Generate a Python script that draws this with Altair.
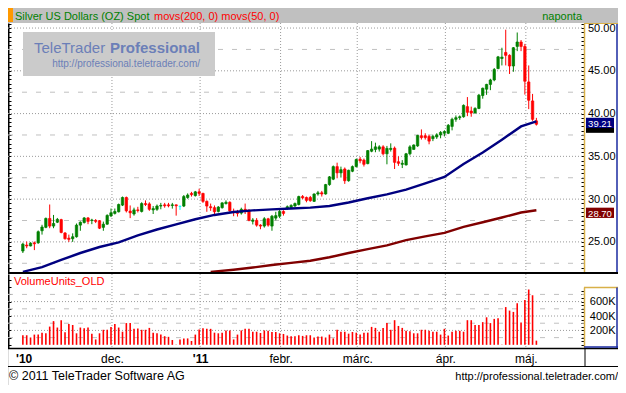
import altair as alt
import pandas as pd

# ---------------- data ----------------
OPEN = [23.93, 24.63, 24.52, 24.89, 24.89, 26.30, 26.70, 27.74, 26.85, 27.30,
        27.60, 26.04, 25.44, 25.37, 25.60, 26.96, 27.26, 27.80, 27.50, 27.50,
        27.48, 26.70, 27.07, 28.04, 28.33, 28.52, 29.30, 30.19, 28.60, 28.26,
        28.74, 28.56, 29.48, 29.44, 28.74, 28.81, 29.19, 29.33, 29.33, 29.26,
        29.33, 29.15, 29.19, 30.19, 30.67, 30.41, 30.85, 30.67, 29.74, 29.11,
        29.00, 28.56, 29.00, 29.48, 29.63, 28.56, 28.44, 28.37, 28.81, 28.70,
        27.41, 27.52, 26.96, 26.85, 27.70, 26.85, 27.78, 28.00, 28.56, 28.89,
        29.00, 29.19, 29.37, 30.30, 30.19, 30.19, 29.74, 30.60, 30.74, 30.60,
        31.70, 32.33, 33.80, 33.07, 33.52, 32.15, 33.26, 33.81, 34.67, 34.56,
        34.15, 35.60, 35.81, 35.85, 36.11, 35.30, 35.81, 35.96, 34.37, 34.07,
        34.00, 35.30, 35.81, 36.22, 37.41, 37.41, 37.33, 37.07, 37.26, 37.50,
        37.70, 37.70, 38.50, 39.33, 39.52, 39.63, 40.81, 40.30, 40.07, 40.60,
        42.11, 42.85, 43.41, 43.93, 45.26, 46.44, 47.15, 46.81, 45.56, 47.85,
        48.37, 47.85, 43.70, 41.48, 39.15]
HIGH = [24.90, 25.04, 24.96, 25.04, 26.33, 27.00, 27.85, 29.37, 28.15, 27.80,
        27.70, 26.15, 25.85, 26.00, 27.15, 27.40, 27.90, 27.90, 27.70, 27.67,
        27.55, 27.37, 28.22, 28.90, 28.90, 29.48, 30.30, 30.30, 29.26, 29.00,
        29.10, 29.63, 29.85, 29.63, 29.19, 29.37, 29.56, 29.56, 29.56, 29.56,
        29.37, 29.26, 30.48, 30.67, 30.85, 30.96, 31.22, 30.74, 29.85, 29.48,
        29.26, 29.19, 29.63, 29.85, 29.74, 28.89, 28.74, 29.00, 29.48, 28.81,
        27.78, 27.78, 27.07, 27.89, 27.81, 28.15, 28.52, 28.74, 28.70, 29.26,
        29.40, 29.60, 30.40, 30.48, 30.30, 30.37, 30.67, 30.96, 30.96, 31.78,
        32.70, 33.93, 34.26, 33.80, 33.70, 33.44, 33.93, 34.74, 34.93, 34.74,
        35.74, 36.78, 36.60, 36.30, 36.30, 36.22, 36.52, 36.15, 35.00, 34.56,
        35.40, 36.30, 36.40, 37.52, 38.15, 37.70, 37.52, 37.52, 37.70, 37.95,
        38.05, 38.78, 39.52, 39.78, 39.78, 41.07, 41.93, 40.81, 40.74, 42.30,
        43.04, 43.48, 44.07, 45.33, 46.74, 47.70, 49.81, 46.93, 47.78, 49.48,
        48.60, 48.15, 45.63, 42.30, 39.50]
LOW = [23.70, 24.26, 24.48, 24.04, 24.78, 25.85, 26.60, 26.60, 26.60, 27.20,
       26.00, 25.26, 25.00, 25.00, 25.50, 26.30, 27.15, 27.07, 27.07, 27.20,
       26.50, 26.30, 27.00, 27.90, 28.20, 28.44, 29.19, 28.44, 27.78, 28.07,
       28.44, 28.44, 29.19, 28.63, 28.26, 28.63, 28.81, 29.00, 29.04, 28.89,
       28.07, 28.74, 29.07, 30.04, 30.30, 30.30, 30.37, 29.56, 28.52, 28.63,
       28.15, 28.44, 28.89, 29.37, 28.52, 28.00, 27.96, 28.19, 28.26, 27.41,
       27.04, 26.78, 26.48, 26.67, 26.78, 26.30, 27.52, 27.78, 28.07, 28.74,
       28.90, 29.10, 29.26, 30.00, 29.63, 29.70, 29.67, 30.41, 30.30, 30.52,
       31.56, 32.22, 32.44, 32.52, 31.78, 32.04, 33.15, 33.70, 34.19, 33.81,
       34.07, 35.48, 35.48, 35.56, 35.11, 34.07, 35.56, 33.52, 33.89, 33.63,
       33.93, 35.11, 35.78, 36.11, 36.96, 36.96, 36.41, 36.78, 37.04, 37.11,
       37.33, 37.60, 38.04, 39.04, 39.26, 39.52, 39.70, 39.63, 40.00, 40.52,
       41.74, 42.19, 42.74, 43.78, 45.19, 45.63, 45.63, 44.63, 44.89, 47.30,
       47.30, 42.22, 40.52, 39.15, 38.60]
CLOSE = [24.74, 24.52, 24.85, 24.78, 26.19, 26.74, 27.74, 26.85, 27.15, 27.63,
         26.10, 25.37, 25.30, 25.60, 26.96, 27.30, 27.80, 27.40, 27.56, 27.40,
         26.60, 27.07, 28.10, 28.40, 28.56, 29.37, 30.19, 28.63, 28.40, 28.74,
         28.67, 29.48, 29.37, 28.81, 28.89, 29.19, 29.26, 29.22, 29.22, 29.33,
         29.22, 29.15, 30.30, 30.48, 30.52, 30.85, 30.67, 29.74, 29.19, 29.00,
         28.52, 29.07, 29.56, 29.63, 28.63, 28.44, 28.33, 28.81, 28.70, 27.52,
         27.56, 26.96, 26.85, 27.70, 26.96, 28.00, 28.07, 28.56, 28.33, 29.11,
         29.26, 29.48, 30.30, 30.15, 29.85, 29.81, 30.60, 30.74, 30.60, 31.70,
         32.60, 33.80, 33.07, 33.44, 32.15, 33.37, 33.80, 34.63, 34.48, 34.07,
         35.67, 35.85, 36.11, 36.11, 35.30, 35.93, 35.93, 34.30, 34.19, 34.19,
         35.30, 36.11, 36.33, 37.44, 37.19, 37.19, 36.78, 37.33, 37.52, 37.80,
         37.90, 38.63, 39.33, 39.52, 39.63, 40.96, 40.15, 40.07, 40.60, 42.15,
         42.96, 43.41, 43.93, 45.15, 46.63, 46.60, 46.81, 45.56, 47.70, 48.37,
         47.85, 43.78, 41.56, 39.33, 38.75]
VOLUME_K = [133, 133, 102, 142, 142, 169, 160, 253, 329, 240,
            342, 173, 289, 275, 160, 240, 231, 240, 155, 75,
            160, 209, 209, 249, 289, 240, 182, 302, 302, 222,
            226, 209, 209, 235, 169, 160, 142, 120, 111, 67,
            5, 75, 89, 89, 53, 142, 213, 231, 222, 222,
            169, 160, 169, 200, 200, 75, 142, 200, 222, 222,
            182, 182, 164, 200, 195, 178, 178, 160, 151, 129,
            120, 120, 133, 124, 133, 133,
            102, 115, 115, 102, 142, 89, 209, 182, 182, 155,
            178, 169, 142, 169, 169, 249, 235, 182, 235, 302,
            209, 342, 262, 235, 195, 187, 160, 160, 209, 209,
            195, 182, 182, 142, 222, 129, 182, 195, 195, 182,
            342, 342, 275, 275, 315, 382, 302, 360, 369, 5,
            524, 475, 457, 577, 311, 622, 768, 688, 58]
MA50_IDX = [0, 5, 10, 15, 20, 25, 30, 35, 40, 45, 50, 55, 60, 65, 70, 75, 80,
            85, 90, 95, 100, 105, 110, 115, 120, 125, 130, 134]
MA50 = [21.5, 22.05, 22.9, 23.7, 24.4, 24.95, 25.75, 26.45, 27.05, 27.65,
        28.15, 28.5, 28.68, 28.8, 28.9, 29.0, 29.2, 29.6, 30.1, 30.55,
        31.1, 31.85, 32.6, 34.1, 35.45, 36.95, 38.5, 39.1]
MA200_IDX = [49, 55, 60, 65, 70, 75, 80, 85, 90, 95, 100, 105, 110, 115, 120,
             125, 130, 134]
MA200 = [21.5, 21.75, 22.0, 22.3, 22.55, 22.8, 23.2, 23.7, 24.15, 24.6, 25.2,
         25.65, 26.05, 26.75, 27.3, 27.85, 28.44, 28.7]

MONTH_POS = [0.2, 23.25, 46.25, 67.25, 87.25, 110.25, 131.25]
MONTH_LABELS = ["'10", "dec.", "'11", "febr.", "márc.", "ápr.", "máj."]
GRID_POS = MONTH_POS[1:]
PRICE_TICKS = [25, 30, 35, 40, 45, 50]
PRICE_DASH = [22.5, 27.5, 32.5, 37.5, 42.5, 47.5]
PRICE_MINOR = [22.0 + 0.5 * k for k in range(58)]
VOLUME_TICKS = [200, 400, 600]
VOLUME_DASH = [100, 300, 500, 700]
VOLUME_MINOR_R = [50 * k for k in range(16)]
VOLUME_MINOR_L = [100 * k for k in range(10)]
LAST_PRICE = 38.35          # black tag, mostly hidden under the MA50 tag
TAG_VALUES = [39.21, 28.70]
TAG_TEXT = ["39.21", "28.70"]
TAG_COLORS = ["#000080", "#800000"]

# ---------------- layout ----------------
W, H = 610, 377
PR = 576             # right edge of plot area
P_TOP, P_BOT = 15, 264
V_TOP, V_BOT = 266, 340
FONT = "Liberation Sans"
TAG_SHIFT = 0.3      # tags sit slightly below their value, as in the original
TAG_HALF = 0.6

xscale = alt.Scale(domain=[-2.575, 145.12], range=[0, PR], nice=False, zero=False)
pscale = alt.Scale(domain=[21.48, 50.59], range=[P_BOT, P_TOP], nice=False, zero=False)
vscale = alt.Scale(domain=[-44, 983], range=[V_BOT, V_TOP], nice=False, zero=False)

dirs = ["up" if c > o else ("down" if c < o else "doji") for o, c in zip(OPEN, CLOSE)]
candles = pd.DataFrame({"idx": list(range(len(OPEN))), "open": OPEN, "high": HIGH,
                        "low": LOW, "close": CLOSE, "dir": dirs})
vol = pd.DataFrame({"idx": list(range(len(VOLUME_K))), "vol": VOLUME_K, "zero": 0})
ma50 = pd.DataFrame({"idx": MA50_IDX, "ma": MA50})
ma200 = pd.DataFrame({"idx": MA200_IDX, "ma": MA200})
one = pd.DataFrame({"a": [0]})

cscale = alt.Scale(domain=["up", "down", "doji"], range=["#008000", "#ff0000", "#00ffff"])

def X(field="idx:Q", axis=None):
    return alt.X(field, scale=xscale, axis=axis, title=None)

def noaxis_y(field, scale):
    return alt.Y(field, scale=scale, axis=None, title=None)

def rect(x1, x2, y1, y2, color):
    return alt.Chart(one).mark_rect(color=color).encode(
        x=alt.value(x1), x2=alt.value(x2), y=alt.value(y1), y2=alt.value(y2))

def line(x1, x2, y1, y2, color, width=1, dash=None):
    kw = dict(color=color, strokeWidth=width)
    if dash:
        kw["strokeDash"] = dash
    return alt.Chart(one).mark_rule(**kw).encode(
        x=alt.value(x1), x2=alt.value(x2), y=alt.value(y1), y2=alt.value(y2))

def text(x, y, s, color="black", size=11, align="left", weight="normal", font=FONT):
    return alt.Chart(one).mark_text(text=s, align=align, baseline="alphabetic",
                                    fontSize=size, color=color, fontWeight=weight,
                                    font=font).encode(x=alt.value(x), y=alt.value(y))

# axes
price_labels = alt.Axis(orient="right", offset=PR - W, values=PRICE_TICKS, format=".2f",
                        ticks=False, tickSize=0, domain=False, grid=False,
                        labelAlign="right", labelBaseline="middle", labelPadding=31,
                        labelFont=FONT, labelFontSize=11, labelColor="black",
                        labelOverlap=False, labelFlush=False, title=None)
price_inner = alt.Axis(orient="left", offset=-PR, values=PRICE_MINOR, labels=False,
                       tickSize=3, tickColor="black", domain=True, domainColor="#d8b048",
                       domainWidth=1.5, grid=False, title=None)
price_edge = alt.Axis(orient="right", offset=-W, values=PRICE_MINOR, labels=False,
                      tickSize=3, tickColor="black", domain=True, domainColor="black",
                      domainWidth=2, grid=False, title=None)
vol_labels = alt.Axis(orient="right", offset=PR - W, values=VOLUME_TICKS,
                      labelExpr="datum.value + 'K'", ticks=False, tickSize=0,
                      domain=False, grid=False, labelAlign="right", labelBaseline="middle",
                      labelPadding=31, labelFont=FONT, labelFontSize=11,
                      labelColor="black", labelOverlap=False, labelFlush=False, title=None)
vol_inner = alt.Axis(orient="left", offset=-PR, values=VOLUME_MINOR_R, labels=False,
                     tickSize=3, tickColor="black", domain=False, grid=False, title=None)
vol_edge = alt.Axis(orient="right", offset=-W, values=VOLUME_MINOR_L, labels=False,
                    tickSize=3, tickColor="black", domain=True, domainColor="black",
                    domainWidth=2, grid=False, title=None)

expr = "".join(f'abs(datum.value - {p}) < 0.5 ? "{l}" : ' for p, l in zip(MONTH_POS, MONTH_LABELS)) + '""'
date_axis = alt.Axis(orient="bottom", offset=V_BOT - H, values=MONTH_POS, labelExpr=expr,
                     ticks=False, tickSize=0, domain=False, grid=False, labelPadding=5,
                     labelFont=FONT, labelFontSize=12, labelColor="black",
                     labelFontWeight={"condition": {"test": "datum.value < 1 || (datum.value > 46 && datum.value < 47)",
                                                    "value": "bold"}, "value": "normal"},
                     labelOverlap=False, labelFlush=False, title=None)

layers = []
# header
layers.append(rect(0, W, 0, 15, "#c0c0c0"))
layers.append(rect(0, 5, 0, 14, "#ff9900"))

# price gridlines
pdot = pd.DataFrame({"v": PRICE_TICKS})
pdash = pd.DataFrame({"v": PRICE_DASH})
layers.append(alt.Chart(pdot).mark_rule(color="#9a9a9a", strokeDash=[1, 2]).encode(
    y=alt.Y("v:Q", scale=pscale, axis=price_labels, title=None),
    x=alt.value(0), x2=alt.value(PR)))
layers.append(alt.Chart(pdash).mark_rule(color="#c0c0c0", strokeDash=[5, 9]).encode(
    y=alt.Y("v:Q", scale=pscale, axis=price_inner, title=None),
    x=alt.value(0), x2=alt.value(PR)))
# volume gridlines
vdot = pd.DataFrame({"v": VOLUME_TICKS})
vdash = pd.DataFrame({"v": VOLUME_DASH})
layers.append(alt.Chart(vdot).mark_rule(color="#9a9a9a", strokeDash=[1, 2]).encode(
    y=alt.Y("v:Q", scale=vscale, axis=vol_labels, title=None),
    x=alt.value(0), x2=alt.value(PR)))
layers.append(alt.Chart(vdash).mark_rule(color="#c0c0c0", strokeDash=[5, 9]).encode(
    y=alt.Y("v:Q", scale=vscale, axis=vol_inner, title=None),
    x=alt.value(0), x2=alt.value(PR)))
# vertical month gridlines
grid = pd.DataFrame({"g": GRID_POS})
layers.append(alt.Chart(grid).mark_rule(color="#9a9a9a", strokeDash=[1, 2]).encode(
    x=X("g:Q"), y=alt.value(P_TOP), y2=alt.value(P_BOT)))
layers.append(alt.Chart(grid).mark_rule(color="#9a9a9a", strokeDash=[1, 2]).encode(
    x=X("g:Q"), y=alt.value(V_TOP), y2=alt.value(V_BOT)))

# watermark
layers.append(rect(15, 207, 24, 68, "#cbcbcb"))
layers.append(text(26, 45, "TeleTrader", color="#6b7fb8", size=15))
layers.append(text(102, 45, "Professional", color="#6b7fb8", size=15, weight="bold"))
layers.append(text(192, 59, "http://professional.teletrader.com/", color="#6b7fb8",
                   size=10, align="right"))

# candles
layers.append(alt.Chart(candles).mark_rule(strokeWidth=1).encode(
    x=X(), y=alt.Y("low:Q", scale=pscale, axis=price_edge, title=None), y2="high:Q",
    color=alt.Color("dir:N", scale=cscale, legend=None)))
layers.append(alt.Chart(candles).mark_bar(size=2.4, strokeWidth=0.7).encode(
    x=X(), y=noaxis_y("open:Q", pscale), y2="close:Q",
    color=alt.Color("dir:N", scale=cscale, legend=None),
    stroke=alt.Stroke("dir:N", scale=cscale, legend=None)))
# moving averages
layers.append(alt.Chart(ma200).mark_line(color="#800000", strokeWidth=2.4).encode(
    x=X(), y=noaxis_y("ma:Q", pscale)))
layers.append(alt.Chart(ma50).mark_line(color="#000080", strokeWidth=2.4).encode(
    x=X(), y=noaxis_y("ma:Q", pscale)))

# volume
layers.append(alt.Chart(vol).mark_rule(color="#ff0000", strokeWidth=1.6).encode(
    x=X(axis=date_axis), y=alt.Y("vol:Q", scale=vscale, axis=vol_edge, title=None),
    y2="zero:Q"))
layers.append(text(6, 277, "VolumeUnits_OLD", color="#ff0000", size=11))

# separators and axis boxes
layers.append(line(0, W, 265, 265, "black", 2))
layers.append(line(0, W, 340.5, 340.5, "black", 1.5))
layers.append(line(0, W, 358.5, 358.5, "black", 1))
layers.append(line(PR + 1, PR + 1, 340, 358.5, "black", 1))
layers.append(line(W - 1, W - 1, P_TOP, P_BOT, "#1a2aa0", 1.5))
layers.append(line(PR, W, P_TOP + 0.5, P_TOP + 0.5, "#d8b048", 1))
layers.append(line(PR, W, 279.5, 279.5, "#d8b048", 1.5))
layers.append(line(PR + 0.5, PR + 0.5, 279.5, V_BOT, "#d8b048", 1.5))
layers.append(line(W - 1, W - 1, 279.5, V_BOT, "#1a2aa0", 1.5))
layers.append(line(PR, W, V_BOT - 1, V_BOT - 1, "#1a2aa0", 1.5))

# value tags on the right: last price (black, underneath) then the MA tags
last = pd.DataFrame({"lo": [LAST_PRICE - TAG_HALF], "hi": [LAST_PRICE + TAG_HALF]})
layers.append(alt.Chart(last).mark_rect(color="#000000").encode(
    x=alt.value(578), x2=alt.value(606), y=noaxis_y("lo:Q", pscale), y2="hi:Q"))
tags = pd.DataFrame({"v": TAG_VALUES, "t": TAG_TEXT, "c": TAG_COLORS})
tags["mid"] = tags["v"] - TAG_SHIFT
tags["lo"] = tags["mid"] - TAG_HALF
tags["hi"] = tags["mid"] + TAG_HALF
layers.append(alt.Chart(tags).mark_rect().encode(
    x=alt.value(578), x2=alt.value(606), y=noaxis_y("lo:Q", pscale), y2="hi:Q",
    color=alt.Color("c:N", scale=None, legend=None)))
layers.append(alt.Chart(tags).mark_text(color="white", fontSize=9.5, font=FONT,
                                        align="center", baseline="middle", dy=1).encode(
    x=alt.value(592), y=noaxis_y("mid:Q", pscale), text="t:N"))

# header texts
layers.append(text(7, 11.5, "Silver US Dollars (OZ) Spot", color="#008000", size=11))
layers.append(text(146, 11.5, "movs(200, 0) movs(50, 0)", color="#ff0000", size=11))
layers.append(text(574, 11.5, "naponta", color="#008000", size=11, align="right"))

# footer
layers.append(text(1, 372, "\u00a9 2011 TeleTrader Software AG", size=12.5))
layers.append(text(W, 372, "http://professional.teletrader.com/", size=11, align="right"))

chart = alt.layer(*layers).resolve_scale(y="independent").resolve_axis(
    x="independent", y="independent").properties(
    width=W, height=H, autosize=alt.AutoSizeParams(type="none"), padding=0
).configure_view(strokeWidth=0).configure(background="white")

chart.save("out.html", embed_options={"renderer": "svg", "actions": False})
